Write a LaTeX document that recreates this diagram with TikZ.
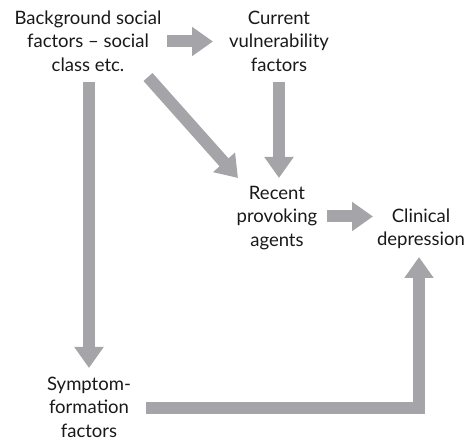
\documentclass[tikz,border=0pt]{standalone}
\usepackage{fontspec}
\setmainfont{Lato}
\usetikzlibrary{arrows.meta}
\definecolor{arrowgray}{RGB}{165,165,169}

\begin{document}
\begin{tikzpicture}[x=1pt, y=-1pt]
      \useasboundingbox (0,0) rectangle (467,441);
      \begin{scope}[every node/.style={align=center, inner sep=0pt,
          font=\fontsize{18.5}{23.5}\selectfont, text=black!90}]
        \node (bg) at (88,41) {Background social\\factors – social\\class etc.};
        \node (cur) at (279,41) {Current\\vulnerability\\factors};
        \node (rec) at (277,218) {Recent\\provoking\\agents};
        \node (cli) at (421,229) {Clinical\\depression};
        \node (sym) at (89,407) {Symptom-\\formation\\factors};
      \end{scope}
      \begin{scope}
        [every edge/.style={draw= arrowgray, line width= 12pt, line join= miter,
        -{Triangle[length= 21pt, width= 28pt]}}]
        \path ([shift={(79,0.5)}]bg.center) edge ([shift={(-66,0.5)}]cur.center);
        \path ([shift={(60,36)}]bg.center) edge ([shift={(-39,-40)}]rec.center);
        \path ([shift={(0,41)}]cur.center) edge ([shift={(2,-40)}]rec.center);
        \path ([shift={(1,41)}]bg.center) edge ([shift={(0,-39)}]sym.center);
        \path ([shift={(50,-1.5)}]rec.center) edge ([shift={(-48,-12.5)}]cli.center);
        \path ([shift={(57,1)}]sym.center) edge[to path={-| (\tikztotarget)}] ([shift={(-2,28)}]cli.center);
      \end{scope}
    \end{tikzpicture}
\end{document}
